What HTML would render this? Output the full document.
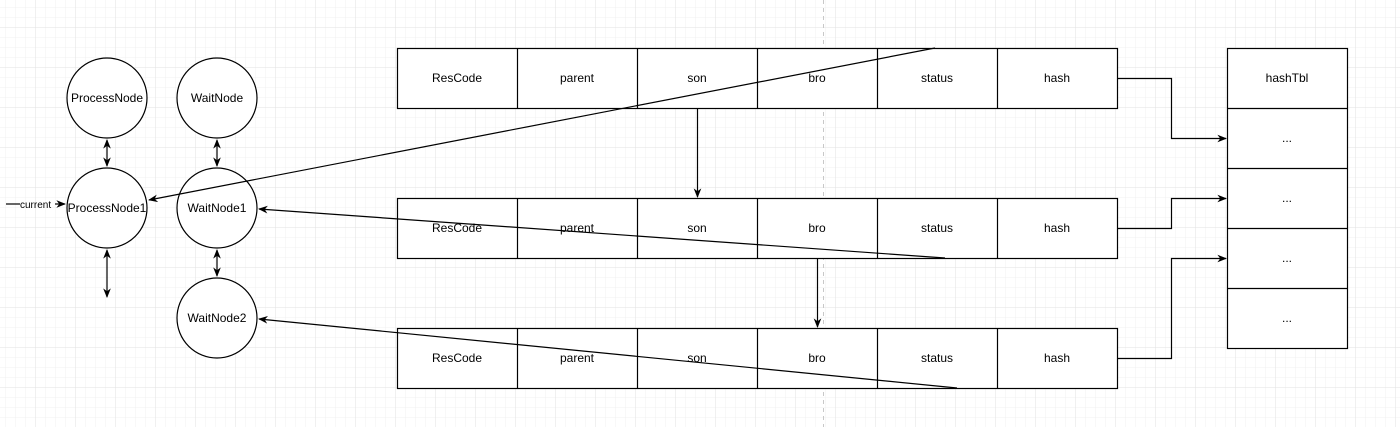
<!DOCTYPE html>
<html><head><meta charset="utf-8"><style>
html,body{margin:0;padding:0;background:#fff;}
svg{display:block;}
text{font-family:"Liberation Sans",Arial,sans-serif;font-size:12px;fill:#000;}
</style></head><body>
<svg width="1400" height="427" viewBox="0 0 1400 427" xmlns="http://www.w3.org/2000/svg">
<defs>
<pattern id="minor" width="10" height="10" patternUnits="userSpaceOnUse" x="6" y="8">
<path d="M10 0V10M0 10H10" stroke="#f0f0f0" stroke-width="1" fill="none"/>
</pattern>
<pattern id="major" width="40" height="40" patternUnits="userSpaceOnUse" x="-4" y="-12">
<path d="M40 0V40M0 40H40" stroke="#e2e2e2" stroke-width="1" fill="none"/>
</pattern>
<marker id="a" viewBox="0 0 10 10" refX="9" refY="5" markerWidth="8" markerHeight="8" orient="auto-start-reverse">
<path d="M0 1L10 5L0 9L3 5Z" fill="#000"/>
</marker>
</defs>
<rect width="1400" height="427" fill="url(#minor)"/>
<rect width="1400" height="427" fill="url(#major)"/>
<line x1="823.5" y1="0" x2="823.5" y2="427" stroke="#c8c8c8" stroke-dasharray="4 4"/>

<g fill="#fff" stroke="#000" stroke-width="1.2">
<circle cx="107" cy="98" r="40"/>
<circle cx="217" cy="98" r="40"/>
<circle cx="107" cy="208" r="40"/>
<circle cx="217" cy="208" r="40"/>
<circle cx="217" cy="318" r="40"/>
</g>
<g text-anchor="middle">
<text x="107" y="102">ProcessNode</text>
<text x="217" y="102">WaitNode</text>
<text x="107" y="212">ProcessNode1</text>
<text x="217" y="212">WaitNode1</text>
<text x="217" y="322">WaitNode2</text>
</g>

<g stroke="#000" stroke-width="1.2" fill="#fff">
<rect x="397.5" y="48.5" width="720" height="60"/>
<rect x="397.5" y="198.5" width="720" height="60"/>
<rect x="397.5" y="328.5" width="720" height="60"/>
<path d="M517.5 48.5V108.5M637.5 48.5V108.5M757.5 48.5V108.5M877.5 48.5V108.5M997.5 48.5V108.5" fill="none"/>
<path d="M517.5 198.5V258.5M637.5 198.5V258.5M757.5 198.5V258.5M877.5 198.5V258.5M997.5 198.5V258.5" fill="none"/>
<path d="M517.5 328.5V388.5M637.5 328.5V388.5M757.5 328.5V388.5M877.5 328.5V388.5M997.5 328.5V388.5" fill="none"/>
<rect x="1227.5" y="48.5" width="120" height="300"/>
<path d="M1227.5 108.5H1347.5M1227.5 168.5H1347.5M1227.5 228.5H1347.5M1227.5 288.5H1347.5" fill="none"/>
</g>
<g text-anchor="middle">
<text x="457" y="82">ResCode</text><text x="577" y="82">parent</text><text x="697" y="82">son</text><text x="817" y="82">bro</text><text x="937" y="82">status</text><text x="1057" y="82">hash</text>
<text x="457" y="232">ResCode</text><text x="577" y="232">parent</text><text x="697" y="232">son</text><text x="817" y="232">bro</text><text x="937" y="232">status</text><text x="1057" y="232">hash</text>
<text x="457" y="362">ResCode</text><text x="577" y="362">parent</text><text x="697" y="362">son</text><text x="817" y="362">bro</text><text x="937" y="362">status</text><text x="1057" y="362">hash</text>
<text x="1287" y="82">hashTbl</text>
<text x="1287" y="142">...</text><text x="1287" y="202">...</text><text x="1287" y="262">...</text><text x="1287" y="322">...</text>
</g>

<g stroke="#000" stroke-width="1.2" fill="none">
<line x1="107" y1="140" x2="107" y2="166" marker-start="url(#a)" marker-end="url(#a)"/>
<line x1="217" y1="140" x2="217" y2="166" marker-start="url(#a)" marker-end="url(#a)"/>
<line x1="217" y1="250" x2="217" y2="276" marker-start="url(#a)" marker-end="url(#a)"/>
<line x1="107" y1="250" x2="107" y2="297" marker-start="url(#a)" marker-end="url(#a)"/>
<line x1="6" y1="204" x2="20" y2="204"/>
<line x1="55" y1="204" x2="65" y2="204" marker-end="url(#a)"/>
<line x1="935" y1="48" x2="149" y2="200" marker-end="url(#a)"/>
<line x1="945" y1="258" x2="259" y2="209" marker-end="url(#a)"/>
<line x1="957" y1="388" x2="259" y2="319" marker-end="url(#a)"/>
<line x1="697.5" y1="108" x2="697.5" y2="197" marker-end="url(#a)"/>
<line x1="817.5" y1="258" x2="817.5" y2="327" marker-end="url(#a)"/>
<path d="M1117 78.5H1171.5V138.5H1226" marker-end="url(#a)"/>
<path d="M1117 228.5H1171.5V198.5H1226" marker-end="url(#a)"/>
<path d="M1117 358.5H1171.5V258.5H1226" marker-end="url(#a)"/>
</g>
<text x="20" y="208" style="font-size:10px">current</text>
</svg>
</body></html>
